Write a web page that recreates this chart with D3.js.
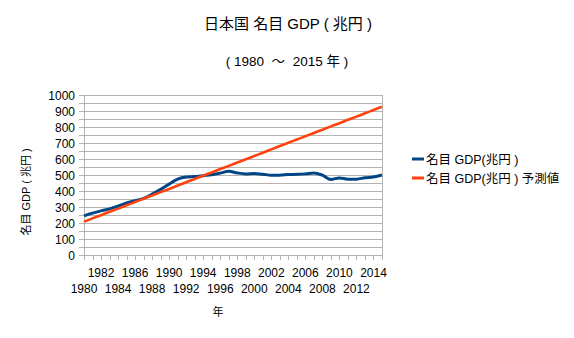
<!DOCTYPE html>
<html>
<head>
<meta charset="utf-8">
<script src="https://cdn.jsdelivr.net/npm/d3@7"></script>
<style>
  body { margin: 0; background: #fff; }
  text { font-family: "Liberation Sans", "Noto Sans CJK JP", sans-serif; fill: #000; }
</style>
</head>
<body>
<svg id="chart" width="574" height="338"></svg>
<script>
// years 1980 - 2015
const years = d3.range(1980, 2016);
// nominal GDP (trillion yen)
const gdp = [245, 262, 276, 288, 305, 325, 340, 354, 380, 410,
             443, 474, 487, 490, 496, 502, 512, 523, 513, 507,
             510, 505, 499, 499, 503, 504, 507, 513, 499, 472,
             482, 474, 474, 483, 487, 500];
// forecast (trend) values
const forecast = [208, 229, 249, 270, 290, 311, 331, 352, 372, 393,
                  413, 434, 455, 475, 496, 516, 537, 557, 578, 598,
                  619, 639, 660, 681, 701, 722, 742, 763, 783, 804,
                  824, 845, 865, 886, 906, 927];
const yTicks = d3.range(0, 1001, 100);
const yGrid = d3.range(0, 1001, 50);
const seriesNames = ["名目 GDP(兆円 )", "名目 GDP(兆円 ) 予測値"];
const colors = ["#004586", "#ff420e"];

let svg = d3.select("#chart");
let pl = 84, pr = 382, pt = 95, pb = 255;

let x = d3.scalePoint().domain(years).range([pl, pr]);
let y = d3.scaleLinear().domain([0, 1000]).range([pb, pt]);

// grid
svg.append("g")
    .selectAll("line")
    .data(yGrid)
    .enter().append("line")
    .attr("x1", pl - 5).attr("x2", pr)
    .attr("y1", d => y(d)).attr("y2", d => y(d))
    .style("stroke", "#b3b3b3").style("stroke-width", 1)
    .attr("shape-rendering", "crispEdges");

// left/right borders
svg.append("line").attr("x1", pl).attr("x2", pl).attr("y1", pt).attr("y2", pb + 5)
    .style("stroke", "#b3b3b3").attr("shape-rendering", "crispEdges");
svg.append("line").attr("x1", pr).attr("x2", pr).attr("y1", pt).attr("y2", pb + 5)
    .style("stroke", "#b3b3b3").attr("shape-rendering", "crispEdges");

// y axis labels
svg.append("g")
    .selectAll("text")
    .data(yTicks)
    .enter().append("text")
    .attr("x", 75).attr("y", d => y(d) + 4.5)
    .attr("text-anchor", "end")
    .style("font-size", "12px")
    .text(d => d);

// x axis ticks
let xAxis = d3.axisBottom(x).tickSize(5).tickFormat("");
let gx = svg.append("g").attr("transform", `translate(0,${pb})`).call(xAxis);
gx.select(".domain").remove();
gx.selectAll("line").style("stroke", "#b3b3b3").attr("shape-rendering", "crispEdges");

// x labels, staggered every 2 years
svg.append("g")
    .selectAll("text")
    .data(years.filter(d => d % 2 === 0 && d < 2015))
    .enter().append("text")
    .attr("x", d => x(d))
    .attr("y", d => (d % 4 === 2) ? 277 : 293)
    .attr("text-anchor", "middle")
    .style("font-size", "12px")
    .text(d => d);

// lines
let line = d3.line().x((d, i) => x(years[i])).y(d => y(d)).curve(d3.curveMonotoneX);
[gdp, forecast].forEach(function (s, i) {
    svg.append("path")
        .datum(s)
        .attr("d", line)
        .style("fill", "none")
        .style("stroke", colors[i])
        .style("stroke-width", i === 0 ? 3 : 2.6)
        .style("stroke-linejoin", "round");
});

// titles
svg.append("text").attr("x", 288).attr("y", 29).attr("text-anchor", "middle")
    .style("font-size", "15px").style("white-space", "pre").text("日本国 名目 GDP ( 兆円 )");
svg.append("text").attr("x", 287).attr("y", 66).attr("text-anchor", "middle")
    .style("font-size", "13.5px").style("white-space", "pre").text("( 1980  ～  2015 年 )");
svg.append("text").attr("x", 218).attr("y", 316).attr("text-anchor", "middle")
    .style("font-size", "11px").text("年");
svg.append("text").attr("transform", "translate(30,192) rotate(-90)").attr("text-anchor", "middle")
    .style("font-size", "11px").style("white-space", "pre").text("名目 GDP ( 兆円 )");

// legend
seriesNames.forEach(function (n, i) {
    let ly = 159 + i * 19;
    svg.append("line").attr("x1", 412).attr("x2", 424).attr("y1", ly).attr("y2", ly)
        .style("stroke", colors[i]).style("stroke-width", 3);
    svg.append("text").attr("x", 426).attr("y", ly + 4.5)
        .style("font-size", "12.5px").text(n);
});
</script>
</body>
</html>
